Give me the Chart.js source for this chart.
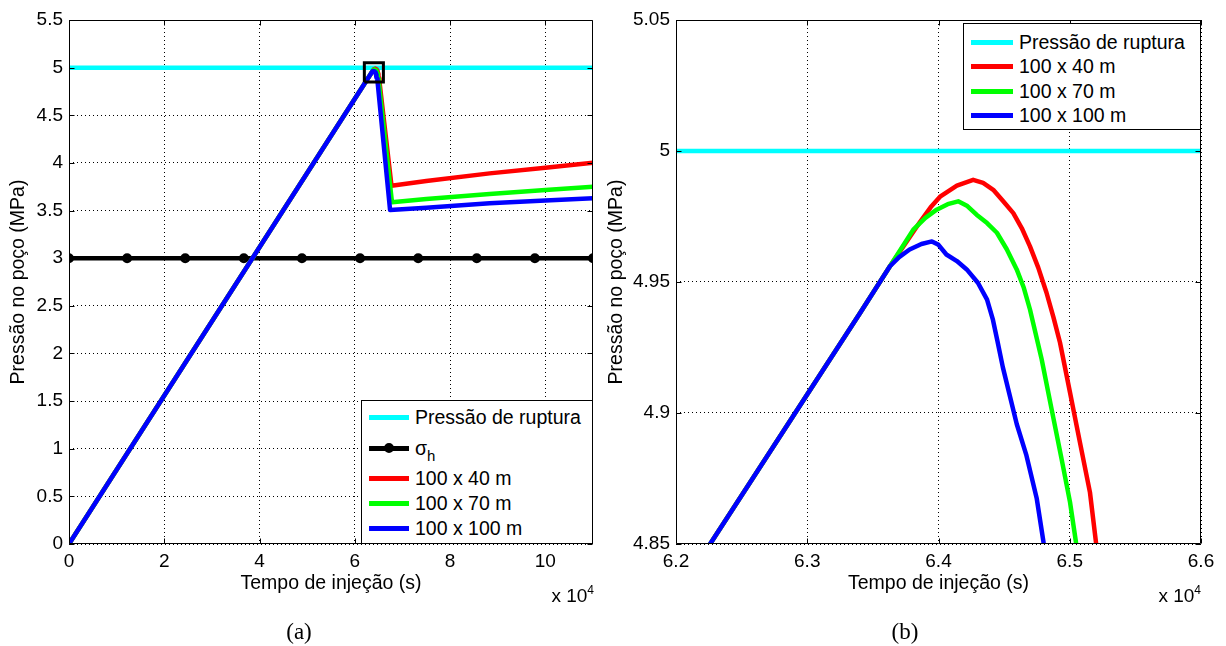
<!DOCTYPE html>
<html>
<head>
<meta charset="utf-8">
<title>Pressão no poço</title>
<script src="https://cdn.jsdelivr.net/npm/chart.js@4.4.1/dist/chart.umd.min.js"></script>
<style>
    html, body { margin: 0; padding: 0; background: #fff; }
    body {
        width: 1226px; height: 646px; position: relative; overflow: hidden;
        font-family: "Liberation Sans", Arial, sans-serif; color: #000;
    }
    .panel { position: absolute; top: 0; height: 646px; }
    .legend {
        position: absolute; background: #fff; border: 1px solid #000;
        box-sizing: border-box; font-size: 19.5px;
    }
    .legend .row { display: flex; align-items: center; }
    .legend .swatch { height: 5px; position: relative; flex: none; margin-left: 7px; margin-right: 6px; }
    .legend .marker {
        position: absolute; left: 15px; top: -2.5px; width: 4px; height: 4px;
        border: 3px solid #000; border-radius: 50%;
    }
    .legend sub { font-size: 15px; vertical-align: -6px; line-height: 0; }
    .exp { position: absolute; font-size: 19px; line-height: 20px; text-align: right; }
    .exp sup { font-size: 12px; vertical-align: 8px; line-height: 0; }
    .caption {
        position: absolute; font-family: "Liberation Serif", "Times New Roman", serif;
        font-size: 23px; line-height: 26px; transform: translateX(-50%);
    }
</style>
</head>
<body>
<div class="panel" style="left:0; width:600px;"><canvas id="chart-a"></canvas></div>
<div class="panel" style="left:600px; width:626px;"><canvas id="chart-b"></canvas></div>

<div class="legend" id="legend-a" style="left:361px; top:400px; width:232px; height:144px; padding-top:4px;"></div>
<div class="legend" id="legend-b" style="left:963px; top:23px; width:238px; height:107px; padding-top:6px;"></div>

<div class="exp" style="right:632px; top:586px;">x 10<sup>4</sup></div>
<div class="exp" style="right:25px; top:586px;">x 10<sup>4</sup></div>
<div class="caption" style="left:299px; top:619px;">(a)</div>
<div class="caption" style="left:905px; top:619px;">(b)</div>

<script>
// Tempo de injeção (s) e pressão no poço (MPa)
const tRuptura = [0, 110000];
const pRuptura = [5, 5];

const tSigma = [0, 12200, 24400, 36700, 48900, 61100, 73300, 85600, 97800, 110000];
const pSigma = [3, 3, 3, 3, 3, 3, 3, 3, 3, 3];

const t40 = [0, 62260, 63400, 63630, 63860, 63940, 64015, 64140, 64264, 64340, 64417, 64490, 64570,
             64635, 64697, 64760, 64823, 64876, 64926, 65002, 65078, 65154, 65200, 67700, 75000,
             88300, 100000, 110000];
const p40 = [0, 4.85, 4.938, 4.956, 4.973, 4.9785, 4.9827, 4.9868, 4.989, 4.9878, 4.9852, 4.981, 4.9763,
             4.9705, 4.9636, 4.9555, 4.9459, 4.9365, 4.9268, 4.9078, 4.8887, 4.8697, 4.8506, 3.76, 3.81,
             3.89, 3.95, 4.003];

const t70 = [0, 62260, 63400, 63630, 63808, 63900, 63986, 64070, 64150, 64220, 64290, 64370, 64445,
             64520, 64596, 64650, 64697, 64786, 64862, 64938, 65002, 65047, 67800, 75000, 88300,
             100000, 110000];
const p70 = [0, 4.85, 4.938, 4.956, 4.970, 4.9745, 4.9776, 4.9797, 4.9808, 4.979, 4.9757, 4.9725, 4.9688,
             4.9625, 4.9548, 4.9478, 4.9395, 4.9205, 4.9014, 4.8824, 4.866, 4.8508, 3.587, 3.62, 3.674,
             3.715, 3.751];

const t100 = [0, 62260, 63400, 63630, 63700, 63780, 63870, 63950, 64000, 64060, 64140, 64215, 64300,
              64370, 64415, 64449, 64490, 64596, 64670, 64748, 64800, 67400, 75000, 88300, 100000,
              110000];
const p100 = [0, 4.85, 4.938, 4.956, 4.9595, 4.9624, 4.9645, 4.9655, 4.9642, 4.9605, 4.958, 4.9548, 4.9497,
              4.9433, 4.9355, 4.9275, 4.9175, 4.8958, 4.8838, 4.8675, 4.8507, 3.506, 3.53, 3.577,
              3.605, 3.629];

// region shown enlarged in (b)
const tZoom = [62000, 66000, 66000, 62000, 62000];
const pZoom = [4.85, 4.85, 5.05, 5.05, 4.85];

// axis ranges and tick values
const xRangeA = [0, 110000];
const yRangeA = [0, 5.5];
const xTicksA = [0, 20000, 40000, 60000, 80000, 100000];
const yTicksA = [0, 0.5, 1, 1.5, 2, 2.5, 3, 3.5, 4, 4.5, 5, 5.5];
const xRangeB = [62000, 66000];
const yRangeB = [4.85, 5.05];
const xTicksB = [62000, 63000, 64000, 65000, 66000];
const yTicksB = [4.85, 4.9, 4.95, 5, 5.05];

const seriesNames = ['Pressão de ruptura', 'σ<sub>h</sub>', '100 x 40 m', '100 x 70 m', '100 x 100 m'];
const seriesColors = ['#00ffff', '#000000', '#ff0000', '#00ff00', '#0000ff'];

Chart.defaults.font.family = '"Liberation Sans", Arial, sans-serif';
Chart.defaults.color = '#000';

const toPoints = (t, p) => t.map((v, i) => ({ x: v, y: p[i] }));
const fmt = v => String(+v.toFixed(2));

function lineDataset(label, t, p, color, order, extra) {
    return Object.assign({
        label: label,
        data: toPoints(t, p),
        borderColor: color,
        backgroundColor: color,
        borderWidth: 4.5,
        borderJoinStyle: 'round',
        pointRadius: 0,
        fill: false,
        order: order
    }, extra || {});
}

/**
 * MATLAB-like axes: full box and inward tick marks
 */
const axesBoxPlugin = {
    id: 'axesBox',
    afterDatasetsDraw(chart) {
        const { ctx, chartArea: a, scales } = chart;
        const L = Math.round(a.left) + 0.5, R = Math.round(a.right) - 0.5;
        const T = Math.round(a.top) + 0.5, B = Math.round(a.bottom) - 0.5;
        ctx.save();
        ctx.setLineDash([]);
        ctx.strokeStyle = '#000';
        ctx.lineWidth = 1;
        ctx.beginPath();
        scales.x.ticks.forEach(tk => {
            const px = Math.round(scales.x.getPixelForValue(tk.value)) + 0.5;
            ctx.moveTo(px, B); ctx.lineTo(px, B - 5);
            ctx.moveTo(px, T); ctx.lineTo(px, T + 5);
        });
        scales.y.ticks.forEach(tk => {
            const py = Math.round(scales.y.getPixelForValue(tk.value)) + 0.5;
            ctx.moveTo(L, py); ctx.lineTo(L + 5, py);
            ctx.moveTo(R, py); ctx.lineTo(R - 5, py);
        });
        ctx.rect(L, T, R - L, B - T);
        ctx.stroke();
        ctx.restore();
    }
};

function axisX(range, tickValues) {
    return {
        type: 'linear',
        min: range[0],
        max: range[1],
        afterBuildTicks(scale) {
            scale.ticks = tickValues.map(v => ({ value: v }));
        },
        ticks: {
            padding: 6, maxRotation: 0, autoSkip: false,
            font: { size: 19 },
            callback: v => fmt(v / 1e4)
        },
        grid: { color: '#000', lineWidth: 1, drawTicks: false },
        border: { display: false, dash: [1, 3] },
        title: { display: true, text: 'Tempo de injeção (s)', font: { size: 19.5 }, padding: 0 },
        afterFit(scale) {
            scale.height = 51.5;
            scale.paddingLeft = 0;
            scale.paddingRight = 0;
        }
    };
}

function axisY(range, tickValues, width, titleOffset) {
    return {
        type: 'linear',
        min: range[0],
        max: range[1],
        afterBuildTicks(scale) {
            scale.ticks = tickValues.map(v => ({ value: v }));
        },
        ticks: {
            padding: 6, autoSkip: false,
            font: { size: 19 },
            callback: v => fmt(v)
        },
        grid: { color: '#000', lineWidth: 1, drawTicks: false },
        border: { display: false, dash: [1, 3] },
        title: {
            display: true, text: 'Pressão no poço (MPa)', font: { size: 19.5 },
            padding: { top: titleOffset, bottom: 0 }
        },
        afterFit(scale) {
            scale.width = width;
            scale.paddingTop = 0;
            scale.paddingBottom = 0;
        }
    };
}

function makeChart(id, datasets, x, y, yWidth, titleOffset, padRight) {
    return new Chart(document.getElementById(id), {
        type: 'line',
        data: { datasets: datasets },
        options: {
            responsive: true,
            maintainAspectRatio: false,
            animation: false,
            events: [],
            layout: { padding: { left: 0, top: 20, right: padRight, bottom: 50.5 } },
            plugins: { legend: { display: false }, tooltip: { enabled: false } },
            scales: {
                x: axisX(x.range, x.ticks),
                y: axisY(y.range, y.ticks, yWidth, titleOffset)
            }
        },
        plugins: [axesBoxPlugin]
    });
}

function buildLegend(id, indices, rowHeights, swatchWidth) {
    const el = document.getElementById(id);
    indices.forEach((idx, k) => {
        const row = document.createElement('div');
        row.className = 'row';
        row.style.height = rowHeights[k] + 'px';
        const sw = document.createElement('span');
        sw.className = 'swatch';
        sw.style.width = swatchWidth + 'px';
        sw.style.background = seriesColors[idx];
        if (idx === 1) {
            const m = document.createElement('span');
            m.className = 'marker';
            sw.appendChild(m);
        }
        const tx = document.createElement('span');
        tx.innerHTML = seriesNames[idx];
        row.append(sw, tx);
        el.appendChild(row);
    });
}

// (a) full injection history
makeChart('chart-a', [
    lineDataset(seriesNames[0], tRuptura, pRuptura, seriesColors[0], 6),
    lineDataset('σh', tSigma, pSigma, seriesColors[1], 5, {
        pointRadius: 3.5, pointBorderWidth: 3,
        pointBackgroundColor: 'rgba(0,0,0,0)', pointBorderColor: '#000'
    }),
    lineDataset(seriesNames[2], t40, p40, seriesColors[2], 4),
    lineDataset(seriesNames[3], t70, p70, seriesColors[3], 3),
    lineDataset(seriesNames[4], t100, p100, seriesColors[4], 2),
    lineDataset('zoom', tZoom, pZoom, '#000', 1, { borderWidth: 3, borderJoinStyle: 'miter' })
], { range: xRangeA, ticks: xTicksA }, { range: yRangeA, ticks: yTicksA }, 69, 7.3, 6);

// (b) detail around the breakdown peak
makeChart('chart-b', [
    lineDataset(seriesNames[0], tRuptura, pRuptura, seriesColors[0], 6, { clip: 0 }),
    lineDataset(seriesNames[2], t40, p40, seriesColors[2], 4, { clip: 0 }),
    lineDataset(seriesNames[3], t70, p70, seriesColors[3], 3, { clip: 0 }),
    lineDataset(seriesNames[4], t100, p100, seriesColors[4], 2, { clip: 0 })
], { range: xRangeB, ticks: xTicksB }, { range: yRangeB, ticks: yTicksB }, 76, 5.3, 25);

buildLegend('legend-a', [0, 1, 2, 3, 4], [25, 36, 25, 25, 25], 40);
buildLegend('legend-b', [0, 2, 3, 4], [24.5, 24.5, 24.5, 24.5], 42);
</script>
</body>
</html>
